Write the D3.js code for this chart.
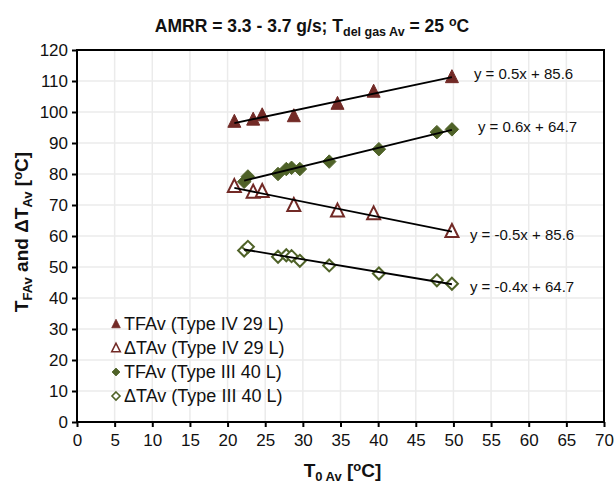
<!DOCTYPE html>
<html>
<head>
<meta charset="utf-8">
<script src="https://cdn.jsdelivr.net/npm/d3@7"></script>
<style>
  body { margin: 0; background: #fff; }
  svg { font-family: "Liberation Sans", Arial, sans-serif; }
</style>
</head>
<body>
<div id="chart"></div>
<script>
// data
const t0TypeIV = [20.9, 23.4, 24.6, 28.8, 34.6, 39.4, 49.8];
const tfTypeIV = [97.0, 97.7, 99.1, 98.8, 102.8, 106.7, 111.4];
const dtTypeIV = [76.1, 74.3, 74.5, 70.0, 68.2, 67.3, 61.6];

const t0TypeIII = [22.2, 22.7, 26.7, 27.8, 28.5, 29.6, 33.5, 40.1, 47.8, 49.8];
const tfTypeIII = [77.5, 79.2, 80.0, 81.6, 82.0, 81.6, 84.0, 88.0, 93.5, 94.4];
const dtTypeIII = [55.3, 56.5, 53.3, 53.8, 53.5, 52.0, 50.5, 47.9, 45.7, 44.6];

const seriesNames = ["TFAv (Type IV 29 L)", "\u0394TAv (Type IV 29 L)", "TFAv (Type III 40 L)", "\u0394TAv (Type III 40 L)"];
const trendLabels = ["y = 0.5x + 85.6", "y = -0.5x + 85.6", "y = 0.6x + 64.7", "y = -0.4x + 64.7"];
const xTicks = d3.range(0, 71, 5);
const yTicks = d3.range(0, 121, 10);

const red = "#722a26";
const green = "#4f6228";

const series = [
  { name: seriesNames[0], x: t0TypeIV, y: tfTypeIV, shape: "tri", filled: true, color: red, label: trendLabels[0], lab: [22, -3] },
  { name: seriesNames[1], x: t0TypeIV, y: dtTypeIV, shape: "tri", filled: false, color: red, label: trendLabels[1], lab: [18, 3] },
  { name: seriesNames[2], x: t0TypeIII, y: tfTypeIII, shape: "dia", filled: true, color: green, label: trendLabels[2], lab: [26, -3] },
  { name: seriesNames[3], x: t0TypeIII, y: dtTypeIII, shape: "dia", filled: false, color: green, label: trendLabels[3], lab: [18, 2] }
];

const width = 616, height = 487;
const margin = { top: 50, right: 12, bottom: 65, left: 77 };
const innerW = width - margin.left - margin.right;
const innerH = height - margin.top - margin.bottom;

const xScale = d3.scaleLinear().domain([0, 70]).range([0, innerW]);
const yScale = d3.scaleLinear().domain([0, 120]).range([innerH, 0]);

const svg = d3.select("#chart").append("svg")
  .attr("width", width)
  .attr("height", height);

const g = svg.append("g")
  .attr("transform", `translate(${margin.left},${margin.top})`);

// gridlines
g.append("g").selectAll("line").data(xTicks.slice(1, -1)).join("line")
  .attr("x1", d => xScale(d)).attr("x2", d => xScale(d))
  .attr("y1", 0).attr("y2", innerH)
  .attr("stroke", "#ebebeb").attr("stroke-width", 1.5);
g.append("g").selectAll("line").data(yTicks.slice(1, -1)).join("line")
  .attr("x1", 0).attr("x2", innerW)
  .attr("y1", d => yScale(d)).attr("y2", d => yScale(d))
  .attr("stroke", "#ebebeb").attr("stroke-width", 1.5);

// axes
const xAxis = g.append("g")
  .attr("transform", `translate(0,${innerH})`)
  .call(d3.axisBottom(xScale).tickValues(xTicks).tickSize(5).tickPadding(7));
const yAxis = g.append("g")
  .call(d3.axisLeft(yScale).tickValues(yTicks).tickSize(5).tickPadding(4));
[xAxis, yAxis].forEach(a => {
  a.select(".domain").remove();
  a.selectAll(".tick line").attr("stroke", "#000").attr("stroke-width", 2);
  a.selectAll(".tick text").attr("font-size", 17).attr("fill", "#111")
    .attr("font-family", "Liberation Sans, Arial, sans-serif");
});

// plot border
g.append("rect")
  .attr("width", innerW).attr("height", innerH)
  .attr("fill", "none").attr("stroke", "#000").attr("stroke-width", 2);

// marker shapes
function markerPath(shape, s) {
  if (shape === "tri") {
    const h = s;
    return `M0,${-h / 2 - 1}L${s / 2 + 0.5},${h / 2}L${-s / 2 - 0.5},${h / 2}Z`;
  }
  return `M0,${-s / 2}L${s / 2},0L0,${s / 2}L${-s / 2},0Z`;
}

series.forEach(s => {
  const pts = s.x.map((x, i) => [x, s.y[i]]);
  const size = s.shape === "tri" ? 12 : (s.filled ? 13.5 : 12);
  g.append("g").selectAll("path").data(pts).join("path")
    .attr("transform", d => `translate(${xScale(d[0])},${yScale(d[1])})`)
    .attr("d", markerPath(s.shape, size))
    .attr("fill", s.filled ? s.color : "#fff")
    .attr("stroke", s.color)
    .attr("stroke-width", s.filled ? 1 : 2)
    .attr("stroke-linejoin", "miter");
});

// linear trendlines (least squares) drawn over the markers
series.forEach(s => {
  const mx = d3.mean(s.x), my = d3.mean(s.y);
  const slope = d3.sum(s.x, (x, i) => (x - mx) * (s.y[i] - my)) / d3.sum(s.x, x => (x - mx) ** 2);
  const icpt = my - slope * mx;
  const [x0, x1] = d3.extent(s.x);
  g.append("line")
    .attr("x1", xScale(x0)).attr("y1", yScale(icpt + slope * x0))
    .attr("x2", xScale(x1)).attr("y2", yScale(icpt + slope * x1))
    .attr("stroke", "#000").attr("stroke-width", 1.8);
  g.append("text")
    .attr("x", xScale(x1) + s.lab[0])
    .attr("y", yScale(icpt + slope * x1) + s.lab[1])
    .attr("dy", "0.35em")
    .attr("font-size", 15)
    .attr("fill", "#111")
    .text(s.label);
});

// legend
const legend = g.append("g").attr("transform", "translate(39,274)");
series.forEach((s, i) => {
  const row = legend.append("g").attr("transform", `translate(0,${i * 24})`);
  row.append("path")
    .attr("d", markerPath(s.shape, s.shape === "tri" ? 7.5 : 8))
    .attr("fill", s.filled ? s.color : "#fff")
    .attr("stroke", s.color)
    .attr("stroke-width", s.filled ? 0.8 : 1.6);
  row.append("text")
    .attr("x", 8).attr("dy", "0.35em")
    .attr("font-size", 18).attr("fill", "#111")
    .text(s.name);
});

// title
const title = svg.append("text")
  .attr("x", 312).attr("y", 32)
  .attr("text-anchor", "middle")
  .attr("font-size", 17.5).attr("font-weight", "bold").attr("fill", "#111");
title.append("tspan").text("AMRR = 3.3 - 3.7 g/s; T");
title.append("tspan").attr("font-size", 12.5).attr("dy", 4).text("del gas Av");
title.append("tspan").attr("dy", -4).text(" = 25 ");
title.append("tspan").attr("font-size", 12.5).attr("dy", -6).text("o");
title.append("tspan").attr("dy", 6).text("C");

// x-axis title
const xt = svg.append("text")
  .attr("x", margin.left + innerW / 2 + 2).attr("y", 477)
  .attr("text-anchor", "middle")
  .attr("font-size", 19).attr("font-weight", "bold").attr("fill", "#111");
xt.append("tspan").text("T");
xt.append("tspan").attr("font-size", 13).attr("dy", 4).text("0 Av");
xt.append("tspan").attr("dy", -4).text(" [");
xt.append("tspan").attr("font-size", 13).attr("dy", -6).text("o");
xt.append("tspan").attr("dy", 6).text("C]");

// y-axis title
const yt = svg.append("text")
  .attr("transform", `translate(28,${margin.top + innerH / 2 - 4}) rotate(-90)`)
  .attr("text-anchor", "middle")
  .attr("font-size", 19).attr("font-weight", "bold").attr("fill", "#111");
yt.append("tspan").text("T");
yt.append("tspan").attr("font-size", 13).attr("dy", 4).text("FAv");
yt.append("tspan").attr("dy", -4).text(" and \u0394T");
yt.append("tspan").attr("font-size", 13).attr("dy", 4).text("Av");
yt.append("tspan").attr("dy", -4).text(" [");
yt.append("tspan").attr("font-size", 13).attr("dy", -6).text("o");
yt.append("tspan").attr("dy", 6).text("C]");
</script>
</body>
</html>
